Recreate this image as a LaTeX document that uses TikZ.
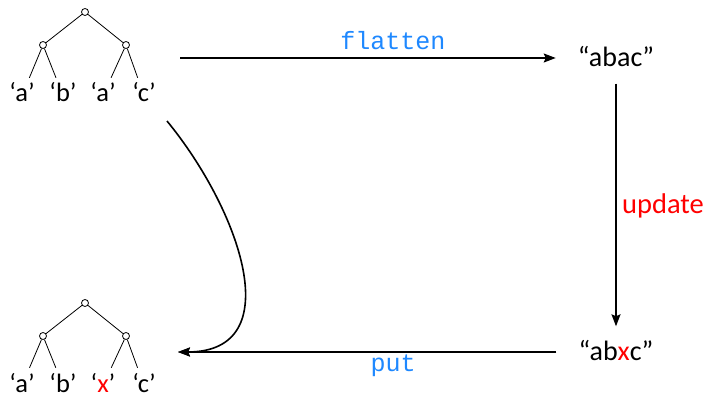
\documentclass[tikz,border=0pt]{standalone}
\usepackage{fontspec}
\setmainfont{Carlito}
\newfontfamily\codefont{Liberation Mono}
\usetikzlibrary{arrows.meta}
\definecolor{codeblue}{RGB}{30,136,255}
\begin{document}
\begin{tikzpicture}[x=1pt,y=-1pt,
  every node/.style={font=\fontsize{26.5}{31}\selectfont},
  inode/.style={circle,draw,fill=white,inner sep=0pt,minimum size=7pt,line width=0.8pt},
  leaf/.style={anchor=base,text height=18pt,text depth=5pt,inner sep=6pt},
  edge/.style={line width=0.8pt},
  strnode/.style={anchor=base,font=\fontsize{28}{32}\selectfont,text height=19pt,text depth=2pt,inner xsep=22pt,inner ysep=15pt},
  arr/.style={-{Stealth[length=12pt,width=9pt,inset=2pt]},line width=1.6pt},
  code/.style={font=\codefont\fontsize{25}{30}\selectfont,text=codeblue,inner sep=0pt},
  ]
\useasboundingbox (0,0) rectangle (709,398);
% top tree
\node[inode] (ta) at (85,12) {};
\node[inode] (tb) at (43,45) {};
\node[inode] (tc) at (126,45) {};
\node[leaf] (t1) at (22,102) {‘a’};
\node[leaf] (t2) at (63,102) {‘b’};
\node[leaf] (t3) at (103,102) {‘a’};
\node[leaf] (t4) at (144,102) {‘c’};
\draw[edge] (ta) -- (tb) (ta) -- (tc);
\draw[edge] (tb) -- (t1) (tb) -- (t2) (tc) -- (t3) (tc) -- (t4);
% bottom tree
\node[inode] (ba) at (85,303) {};
\node[inode] (bb) at (43,336) {};
\node[inode] (bc) at (126,336) {};
\node[leaf] (b1) at (22,392) {‘a’};
\node[leaf] (b2) at (63,392) {‘b’};
\node[leaf] (b3) at (103,392) {‘\textcolor{red}{x}’};
\node[leaf] (b4) at (144,392) {‘c’};
\draw[edge] (ba) -- (bb) (ba) -- (bc);
\draw[edge] (bb) -- (b1) (bb) -- (b2) (bc) -- (b3) (bc) -- (b4);
% strings
\node[strnode] (abac) at (616,66.5) {“abac”};
\node[strnode] (abxc) at (616,360.5) {“ab\textcolor{red}{x}c”};
% arrows
\coordinate (flatS) at (180,58);
\coordinate (putE) at (178,352);
\coordinate (curS) at (167,121);
\draw[arr] (flatS) -- (flatS -| abac.west);
\draw[arr] (abac.south) -- (abxc.north);
\draw[arr] (abxc.west |- putE) -- (putE);
\draw[arr] (curS) .. controls (240,210) and (290,352) .. (putE);
% labels
\node[code,anchor=base] (lflat) at (393,49.5) {flatten};
\node[code,anchor=base] (lput) at (393,371.5) {put};
\node[anchor=base west,inner sep=0pt,text=red,font=\fontsize{28.5}{33}\selectfont] (lupd) at (622,213) {update};
\end{tikzpicture}
\end{document}
